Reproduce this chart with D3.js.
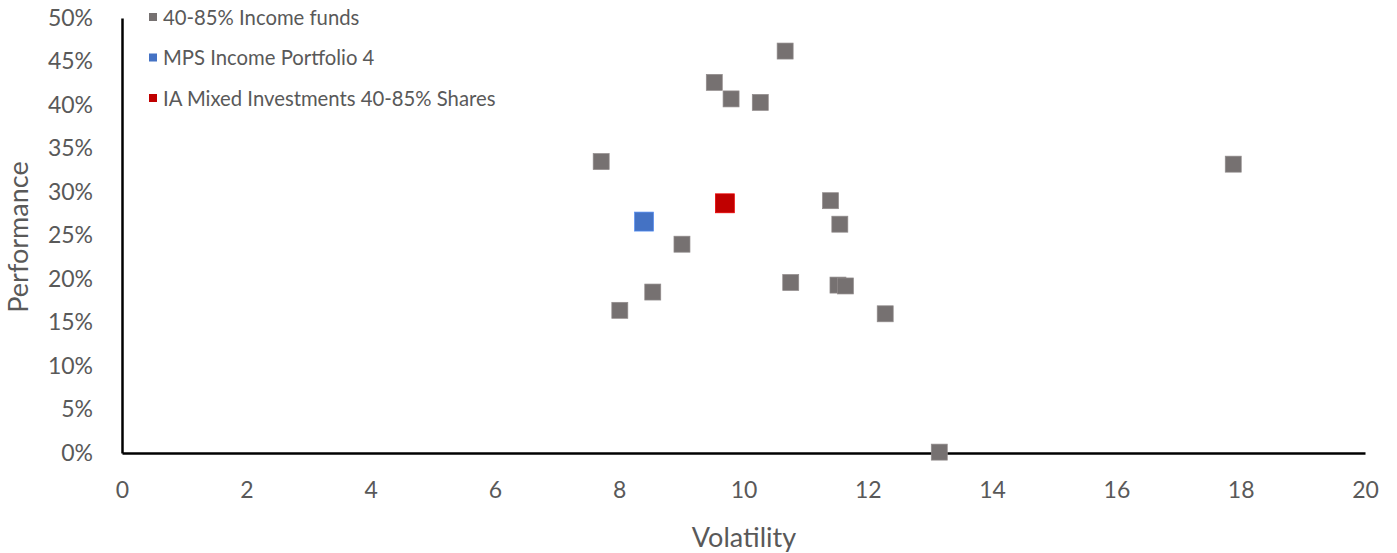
<!DOCTYPE html>
<html><head><meta charset="utf-8">
<script src="https://cdn.jsdelivr.net/npm/d3@7"></script>
<style>
body{margin:0;background:#fff;}
text{font-family:Lato,"Open Sans",sans-serif;}
</style></head><body>
<svg id="c" width="1397" height="553"></svg>
<script>
const fundsVol = [10.67, 9.53, 9.80, 10.27, 7.71, 17.88, 11.40, 11.55, 9.01, 8.54, 8.01, 10.76, 11.52, 11.64, 12.28, 13.15];
const fundsPerf = [0.462, 0.426, 0.407, 0.403, 0.335, 0.332, 0.290, 0.263, 0.240, 0.185, 0.164, 0.196, 0.193, 0.192, 0.160, 0.001];
const mpsVol = [8.40];
const mpsPerf = [0.266];
const iaVol = [9.70];
const iaPerf = [0.287];
const xTicks = [0,2,4,6,8,10,12,14,16,18,20];
const yTicks = [0,0.05,0.10,0.15,0.20,0.25,0.30,0.35,0.40,0.45,0.50];
const seriesNames = ["40-85% Income funds","MPS Income Portfolio 4","IA Mixed Investments 40-85% Shares"];
const seriesColors = ["#767171","#4472C4","#C00000"];

const svg = d3.select("#c");
const x = d3.scaleLinear().domain([0,20]).range([122,1365]);
const y = d3.scaleLinear().domain([0,0.5]).range([453,18]);

// axes
const xAxis = svg.append("g").attr("transform","translate(0,453)")
  .call(d3.axisBottom(x).tickValues(xTicks).tickSize(0).tickPadding(29).tickFormat(d3.format("d")));
const yAxis = svg.append("g").attr("transform","translate(122,0)")
  .call(d3.axisLeft(y).tickValues(yTicks).tickSize(0).tickPadding(29).tickFormat(d3.format(".0%")));
[xAxis,yAxis].forEach(a=>{
  a.select(".domain").attr("stroke","#000").attr("stroke-width",2.5);
  a.selectAll("text").attr("fill","#595959").style("font-size","23px");
});

// titles
svg.append("text").attr("x",744).attr("y",547).attr("text-anchor","middle")
  .attr("fill","#595959").style("font-size","27px").text("Volatility");
svg.append("text").attr("transform","translate(28,237) rotate(-90)").attr("text-anchor","middle")
  .attr("fill","#595959").style("font-size","27px").text("Performance");

// points
function drawSquares(vx, vy, color, size){
  svg.append("g").selectAll("rect").data(vx.map((v,i)=>[v,vy[i]])).join("rect")
    .attr("x",d=>x(d[0])-size/2).attr("y",d=>y(d[1])-size/2)
    .attr("width",size).attr("height",size).attr("fill",color)
    .attr("stroke",d3.color(color).brighter(0.6)).attr("stroke-width",0.7);
}
drawSquares(fundsVol, fundsPerf, seriesColors[0], 16);
drawSquares(mpsVol, mpsPerf, seriesColors[1], 19);
drawSquares(iaVol, iaPerf, seriesColors[2], 19);

// legend
const lg = svg.append("g");
seriesNames.forEach((n,i)=>{
  const yy = 17.5 + i*40.5;
  lg.append("rect").attr("x",149).attr("y",yy-4.5).attr("width",8).attr("height",8).attr("fill",seriesColors[i]);
  lg.append("text").attr("x",163).attr("y",yy).attr("dy","0.35em").attr("fill","#595959")
    .style("font-size","20.3px").text(n);
});
</script>
</body></html>
